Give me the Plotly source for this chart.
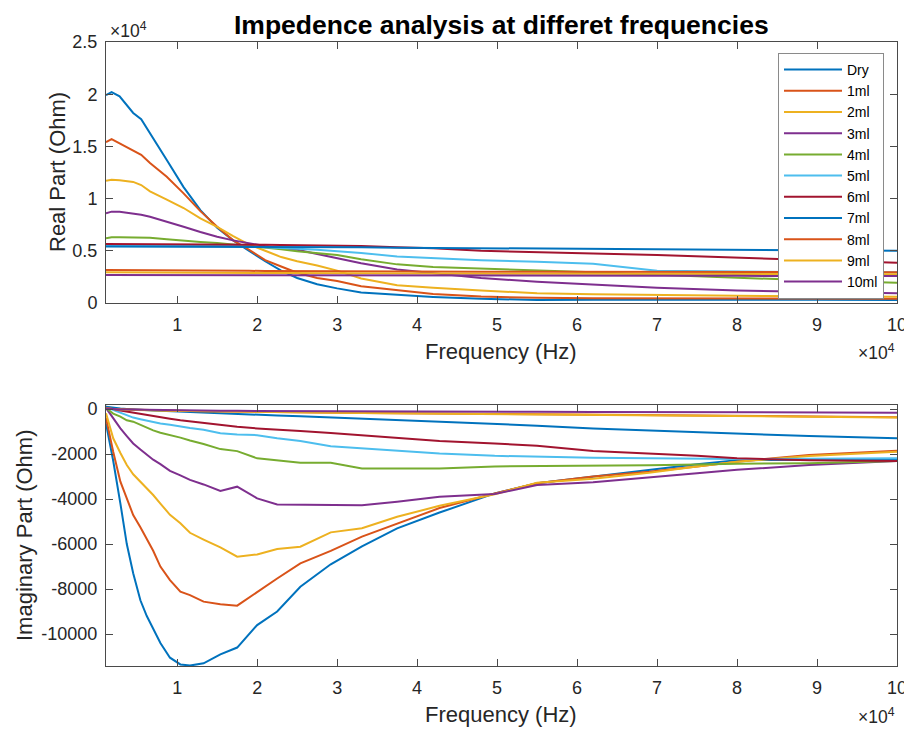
import plotly.graph_objects as go

# The page body has an 8px margin, so the figure is drawn 8px in from the corner.
OFF = 8
W, H = 912 - OFF, 729 - OFF

NAMES = ["Dry", "1ml", "2ml", "3ml", "4ml", "5ml", "6ml", "7ml", "8ml", "9ml", "10ml"]
COLORS = ["#0072BD", "#D95319", "#EDB120", "#7E2F8E", "#77AC30", "#4DBEEE", "#A2142F",
          "#0072BD", "#D95319", "#EDB120", "#7E2F8E"]

# ---------- Real part (top panel) ----------
FREQ_RE = [1100, 1800, 2800, 4500, 5500, 6600, 8700, 10800, 12900, 15000, 17000, 19000, 21000,
           23000, 25000, 27500, 30000, 33000, 37500, 42000, 48000, 55000, 62000, 70000, 80000,
           90000, 100000]

RE_DRY = [19900, 20200, 19800, 18200, 17600, 16300, 13700, 11100, 8900, 7200, 6000, 5000, 4000,
          3100, 2400, 1800, 1400, 1000, 780, 580, 400, 290, 300, 320, 320, 300, 290]
RE_1ML = [15400, 15700, 15300, 14600, 14200, 13400, 12100, 10500, 8800, 7300, 6000, 5100, 4100,
          3500, 2900, 2400, 2100, 1600, 1200, 870, 620, 500, 460, 440, 420, 410, 400]
RE_2ML = [11700, 11800, 11750, 11600, 11300, 10700, 9900, 9100, 8100, 7300, 6400, 5600, 5000,
          4400, 4000, 3600, 3100, 2350, 1700, 1450, 1200, 930, 850, 760, 700, 640, 600]
RE_3ML = [8600, 8750, 8750, 8600, 8450, 8260, 7800, 7300, 6800, 6350, 6000, 5700, 5450,
          5250, 5100, 4700, 4300, 3800, 3200, 2850, 2400, 2030, 1730, 1450, 1200, 1050, 930]
RE_4ML = [6200, 6300, 6300, 6300, 6280, 6250, 6100, 5950, 5850, 5750, 5600, 5500, 5300,
          5150, 4950, 4800, 4600, 4200, 3700, 3450, 3300, 3150, 2950, 2700, 2400, 2150, 1950]
RE_5ML = [5500, 5500, 5500, 5500, 5500, 5500, 5500, 5500, 5500, 5500, 5450, 5400, 5350,
          5300, 5200, 5100, 4950, 4800, 4450, 4300, 4100, 3950, 3750, 3100, 3000, 2950, 2950]
RE_6ML = [5650, 5650, 5650, 5650, 5650, 5650, 5650, 5650, 5650, 5650, 5620, 5600, 5580,
          5560, 5550, 5530, 5500, 5450, 5350, 5250, 5000, 4900, 4750, 4600, 4350, 4050, 3850]
RE_7ML = [5400, 5400, 5400, 5400, 5400, 5400, 5400, 5400, 5400, 5400, 5400, 5400, 5400,
          5390, 5380, 5370, 5350, 5330, 5300, 5280, 5250, 5200, 5150, 5100, 5050, 5000, 5000]
RE_8ML = [3150, 3150, 3140, 3140, 3130, 3130, 3120, 3110, 3100, 3100, 3090, 3080, 3070,
          3060, 3050, 3050, 3040, 3030, 3020, 3010, 3000, 2990, 2980, 2970, 2960, 2950, 2950]
RE_9ML = [2950, 2950, 2950, 2940, 2940, 2930, 2930, 2920, 2910, 2900, 2900, 2890, 2880,
          2870, 2860, 2860, 2850, 2840, 2830, 2820, 2810, 2800, 2790, 2780, 2770, 2760, 2750]
RE_10ML = [2680, 2680, 2680, 2680, 2670, 2670, 2670, 2670, 2660, 2660, 2660, 2660, 2650,
           2650, 2650, 2640, 2640, 2640, 2630, 2630, 2620, 2620, 2610, 2610, 2600, 2600, 2590]

# ---------- Imaginary part (bottom panel) ----------
FREQ_IM = [1100, 2000, 2900, 3700, 4500, 5400, 6200, 7000, 7900, 9100, 10400, 11600, 13300,
           15400, 17500, 20000, 22500, 25400, 29200, 33100, 37500, 42800, 49700, 55000, 62000,
           69000, 75000, 80000, 89000, 100000]

IM_DRY = [-640, -2300, -4200, -6000, -7300, -8500, -9200, -9800, -10400, -11050, -11350, -11400,
          -11300, -10900, -10600, -9600, -9000, -7900, -6900, -6100, -5300, -4600, -3750, -3300,
          -3000, -2700, -2450, -2270, -2250, -2240]
IM_1ML = [-400, -1900, -3230, -4000, -4710, -5250, -5750, -6300, -7000, -7600, -8120, -8270,
          -8560, -8680, -8740, -8120, -7530, -6860, -6300, -5670, -5080, -4400, -3750, -3300,
          -3000, -2790, -2550, -2340, -2040, -1850]
IM_2ML = [-190, -1300, -1950, -2490, -2900, -3230, -3500, -3820, -4200, -4700, -5080, -5500,
          -5800, -6150, -6560, -6460, -6220, -6120, -5480, -5300, -4790, -4300, -3790, -3270,
          -3100, -2830, -2550, -2340, -2090, -1900]
IM_3ML = [50, -400, -860, -1200, -1530, -1800, -2040, -2250, -2450, -2750, -2950, -3150,
          -3350, -3640, -3450, -3970, -4240, -4240, -4260, -4270, -4120, -3900, -3780, -3380,
          -3250, -3050, -2850, -2700, -2490, -2310]
IM_4ML = [50, -200, -340, -500, -560, -700, -860, -950, -1050, -1150, -1270, -1400,
          -1550, -1780, -1870, -2190, -2270, -2390, -2390, -2640, -2640, -2640, -2550, -2540,
          -2520, -2500, -2460, -2430, -2410, -2310]
IM_5ML = [80, -50, -150, -270, -380, -450, -520, -580, -640, -700, -780, -840,
          -920, -1080, -1130, -1160, -1300, -1420, -1650, -1740, -1850, -1980, -2080, -2120,
          -2160, -2190, -2210, -2220, -2210, -2190]
IM_6ML = [100, 0, -60, -110, -170, -220, -270, -320, -370, -430, -500, -550,
          -620, -700, -790, -860, -930, -980, -1060, -1160, -1300, -1420, -1530, -1630,
          -1860, -1970, -2080, -2190, -2270, -2310]
IM_7ML = [100, 50, 20, 0, -20, -40, -50, -60, -70, -90, -110, -130,
          -160, -200, -240, -260, -290, -320, -370, -430, -490, -560, -650, -740,
          -860, -950, -1030, -1100, -1200, -1300]
IM_8ML = [50, 0, -10, -20, -30, -40, -50, -55, -60, -70, -80, -85,
          -95, -100, -110, -120, -130, -140, -155, -170, -185, -200, -220, -240,
          -260, -280, -295, -310, -335, -360]
IM_9ML = [30, -10, -20, -30, -40, -50, -55, -60, -70, -75, -85, -90,
          -100, -110, -115, -125, -135, -145, -160, -175, -190, -205, -225, -245,
          -265, -285, -300, -315, -340, -370]
IM_10ML = [20, -10, -20, -25, -30, -35, -40, -45, -50, -55, -60, -65,
           -70, -75, -80, -85, -90, -95, -100, -105, -110, -115, -120, -125,
           -130, -135, -140, -145, -150, -160]

RE_SERIES = [RE_DRY, RE_1ML, RE_2ML, RE_3ML, RE_4ML, RE_5ML, RE_6ML, RE_7ML, RE_8ML, RE_9ML, RE_10ML]
IM_SERIES = [IM_DRY, IM_1ML, IM_2ML, IM_3ML, IM_4ML, IM_5ML, IM_6ML, IM_7ML, IM_8ML, IM_9ML, IM_10ML]

X_TICKS = [10000, 20000, 30000, 40000, 50000, 60000, 70000, 80000, 90000, 100000]
X_TICKTEXT = ["1", "2", "3", "4", "5", "6", "7", "8", "9", "10"]
RE_TICKS = [0, 5000, 10000, 15000, 20000, 25000]
RE_TICKTEXT = ["0", "0.5", "1", "1.5", "2", "2.5"]
IM_TICKS = [-10000, -8000, -6000, -4000, -2000, 0]
IM_TICKTEXT = ["-10000", "-8000", "-6000", "-4000", "-2000", "0"]

FONT = "Liberation Sans, Arial, Helvetica, sans-serif"
AX_COLOR = "#4a4a4a"
TXT = "#262626"

fig = go.Figure()
for name, col, ys in zip(NAMES, COLORS, RE_SERIES):
    fig.add_trace(go.Scatter(x=FREQ_RE, y=ys, mode="lines", name=name,
                             line=dict(color=col, width=2), xaxis="x", yaxis="y"))
for name, col, ys in zip(NAMES, COLORS, IM_SERIES):
    fig.add_trace(go.Scatter(x=FREQ_IM, y=ys, mode="lines", name=name, showlegend=False,
                             line=dict(color=col, width=2), xaxis="x2", yaxis="y2"))

def px(x):
    return (x - OFF) / W

def py(y):
    return 1 - (y - OFF) / H

common_axis = dict(showline=True, linecolor=AX_COLOR, linewidth=1, mirror="ticks",
                   ticks="inside", ticklen=7, tickcolor=AX_COLOR, showgrid=False,
                   zeroline=False, automargin=False,
                   tickfont=dict(family=FONT, size=18, color=TXT))

fig.update_layout(
    template="none",
    width=W, height=H, margin=dict(l=0, r=0, t=0, b=0, pad=0), autosize=False,
    paper_bgcolor="white", plot_bgcolor="white",
    font=dict(family=FONT, color=TXT),
    xaxis=dict(domain=[px(106), px(897)], range=[1100, 100000], anchor="y",
               tickvals=X_TICKS, ticktext=X_TICKTEXT, ticklabelstandoff=5, **common_axis),
    yaxis=dict(domain=[py(303), py(42)], range=[0, 25000], anchor="x",
               tickvals=RE_TICKS, ticktext=RE_TICKTEXT, ticklabelstandoff=4, **common_axis),
    xaxis2=dict(domain=[px(106), px(897)], range=[1100, 100000], anchor="y2",
                tickvals=X_TICKS, ticktext=X_TICKTEXT, ticklabelstandoff=5, **common_axis),
    yaxis2=dict(domain=[py(666), py(405)], range=[-11420, 180], anchor="x2",
                tickvals=IM_TICKS, ticktext=IM_TICKTEXT, ticklabelstandoff=4, **common_axis),
    legend=dict(x=px(884), y=py(53), xanchor="right", yanchor="top",
                bgcolor="white", bordercolor="#8a8a8a", borderwidth=1,
                font=dict(family=FONT, size=14, color="black"), itemwidth=58,
                tracegroupgap=0),
    showlegend=True,
)

annots = [
    dict(text="<b>Impedence analysis at differet frequencies</b>", x=px(501), y=py(25),
         font=dict(size=26.5, color="black")),
    dict(text="Frequency (Hz)", x=px(501), y=py(351), font=dict(size=22, color=TXT)),
    dict(text="Frequency (Hz)", x=px(501), y=py(714), font=dict(size=22, color=TXT)),
    dict(text="Real Part (Ohm)", x=px(57), y=py(172), textangle=-90, font=dict(size=22, color=TXT)),
    dict(text="Imaginary Part (Ohm)", x=px(24), y=py(535), textangle=-90, font=dict(size=22, color=TXT)),
    dict(text="×10<sup>4</sup>", x=px(128), y=py(30), font=dict(size=17.5, color=TXT)),
    dict(text="×10<sup>4</sup>", x=px(876), y=py(352), font=dict(size=17.5, color=TXT)),
    dict(text="×10<sup>4</sup>", x=px(876), y=py(716), font=dict(size=17.5, color=TXT)),
]
for a in annots:
    fig.add_annotation(xref="paper", yref="paper", showarrow=False,
                       xanchor="center", yanchor="middle", font_family=FONT, **a)

fig.write_html("out.html")
